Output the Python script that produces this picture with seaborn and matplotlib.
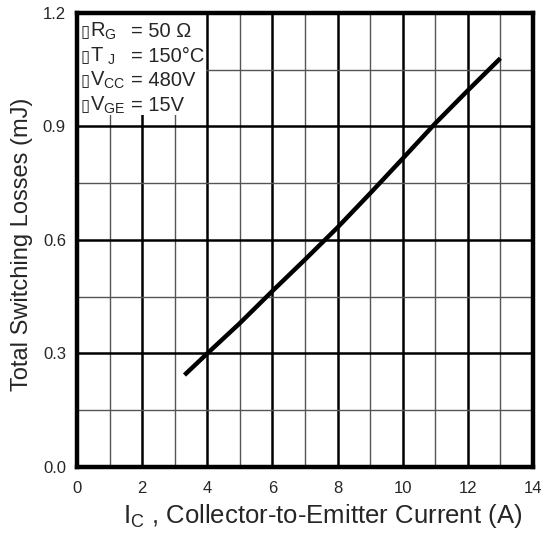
import numpy as np
import pandas as pd
import matplotlib
matplotlib.use("Agg")
import matplotlib.pyplot as plt
from matplotlib.patches import Rectangle
import seaborn as sns

# values
ic_amps = [3.3, 4, 5, 6, 7, 8, 9, 10, 11, 12, 13]
loss_mj = [0.243, 0.300, 0.380, 0.465, 0.548, 0.633, 0.723, 0.815, 0.908, 0.995, 1.080]

x_ticks = [0, 2, 4, 6, 8, 10, 12, 14]
y_ticks = [0.0, 0.3, 0.6, 0.9, 1.2]

cond_names = [r"R$\mathregular{_G}$", r"T$\mathregular{_{\ J}}$",
              r"V$\mathregular{_{CC}}$", r"V$\mathregular{_{GE}}$"]
cond_values = ["= 50 Ω", "= 150°C", "= 480V", "= 15V"]

df = pd.DataFrame({"Ic": ic_amps, "Ets": loss_mj})

sns.set_style("white")
plt.rcParams["font.family"] = ["Liberation Sans", "DejaVu Sans"]
plt.rcParams["mathtext.fontset"] = "custom"
plt.rcParams["mathtext.rm"] = "Liberation Sans"

fig = plt.figure(figsize=(5.48, 5.38), dpi=100)
ax = fig.add_axes([0.1405, 0.132, 0.832, 0.844])

sns.lineplot(data=df, x="Ic", y="Ets", ax=ax, color="black", linewidth=3.2,
             solid_capstyle="butt", zorder=5)

ax.set_xlim(0, 14)
ax.set_ylim(0, 1.2)
ax.set_xticks(x_ticks)
ax.set_yticks(y_ticks)
ax.set_xticklabels([str(t) for t in x_ticks])
ax.set_yticklabels([f"{t:.1f}" for t in y_ticks])
ax.set_xticks(np.arange(1, 14, 2), minor=True)
ax.set_yticks([0.15, 0.45, 0.75, 1.05], minor=True)

ax.grid(which="major", color="black", linewidth=1.8)
ax.grid(which="minor", color="#555555", linewidth=1.0)
ax.set_axisbelow(True)
ax.tick_params(which="both", length=0, labelsize=12)
ax.tick_params(axis="x", pad=10)
ax.tick_params(axis="y", pad=8)

for s in ax.spines.values():
    s.set_linewidth(3.2)
    s.set_color("black")
    s.set_zorder(6)

ax.set_xlabel(r"I$\mathregular{_C}$ , Collector-to-Emitter Current (A)", fontsize=18.5)
ax.xaxis.set_label_coords(0.538, -0.078)
ax.set_ylabel("Total Switching Losses (mJ)", fontsize=17)
ax.yaxis.set_label_coords(-0.097, 0.49)

# white patch behind the test conditions
ax.add_patch(Rectangle((0, 0.775), 0.283, 0.225, transform=ax.transAxes,
                       facecolor="white", edgecolor="none", zorder=3))
baselines = [0.947, 0.892, 0.839, 0.784]
for name, val, yb in zip(cond_names, cond_values, baselines):
    ax.text(0.008, yb, "\u25af", transform=ax.transAxes, ha="left", va="baseline",
            fontsize=12, family="DejaVu Sans", zorder=4)
    ax.text(0.028, yb, name, transform=ax.transAxes, ha="left", va="baseline",
            fontsize=14.5, zorder=4)
    ax.text(0.119, yb, val, transform=ax.transAxes, ha="left", va="baseline",
            fontsize=14.5, zorder=4)

fig.savefig("out.png", dpi=100)
